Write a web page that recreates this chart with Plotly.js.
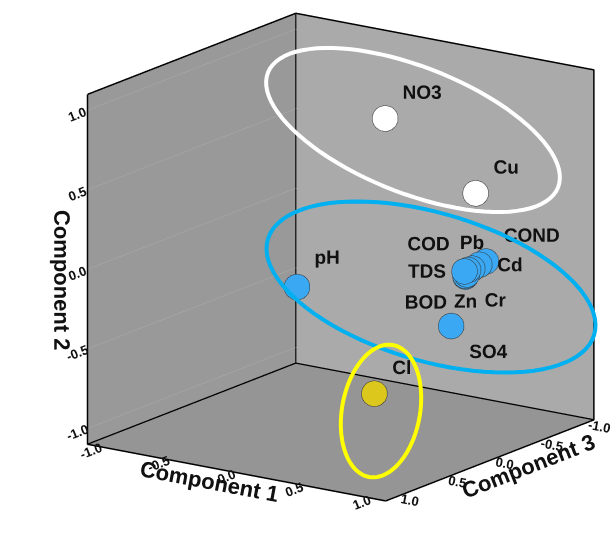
<!DOCTYPE html>
<html><head><meta charset="utf-8">
<script src="https://cdn.plot.ly/plotly-3.0.1.min.js"></script>
<style>html,body{margin:0;padding:0;background:#fff;overflow:hidden}</style>
</head><body><div id="chart" style="width:610px;height:551px"></div>
<script>
// ---- data (PCA loadings) ----
const labels = ['NO3','Cu','pH','COND','Cd','Pb','COD','TDS','BOD','Zn','Cr','SO4','Cl'];
const comp1  = [0.20, 0.70, -0.45, 0.95, 0.93, 0.92, 0.91, 0.90, 0.88, 0.89, 0.90, 0.75, 0.40];
const comp2  = [0.865, 0.42, -0.30, 0.09, 0.075, 0.063, 0.06, 0.055, 0.01, 0.02, 0.03, -0.33, -0.74];
const comp3  = [-0.18, -0.42, -0.18, -0.17, -0.13, -0.07, -0.04, -0.016, -0.055, -0.04, -0.04, -0.09, 0.22];
const groups = ['w','w','b','b','b','b','b','b','b','b','b','b','y'];
const textPos = ['top right','top right','top right','top right','middle right','top center','top left','middle left','bottom left','bottom center','bottom right','bottom right','top right'];
const tickVals = [-1, -0.5, 0, 0.5, 1];
const tickText = ['-1.0', '-0.5', '0.0', '0.5', '1.0'];
const axisRange = [-1.1, 1.1];

// ---- style ----
const groupColors = {w:'#ffffff', b:'#3aa8f2', y:'#dcc81c'};
const font = 'Liberation Sans, Arial, sans-serif';
const lo = axisRange[0], hi = axisRange[1];

const points = {
  type:'scatter3d', mode:'markers+text',
  x: comp3, y: comp1, z: comp2, text: labels, textposition: textPos,
  textfont:{family:font, size:19, color:'#111', weight:'bold'},
  marker:{size:15, color: groups.map(g=>groupColors[g]), opacity:1, line:{color:'#333', width:1}},
  hoverinfo:'skip', showlegend:false
};
function edge(xs, ys, zs){
  return {type:'scatter3d', mode:'lines', x:xs, y:ys, z:zs,
    line:{color:'#000', width:3}, hoverinfo:'skip', showlegend:false};
}
const edges = [
  edge([hi,hi,hi,lo,lo,lo,hi],[lo,lo,hi,hi,hi,lo,lo],[hi,lo,lo,lo,hi,hi,hi]),
  edge([lo,lo,hi],[lo,lo,lo],[hi,lo,lo]),
  edge([lo,lo],[lo,hi],[lo,lo])
];

function ellipsePath(cx, cy, a, b, ang){
  const W = 610, H = 551, t = ang*Math.PI/180, n = 90;
  let d = '';
  for(let i=0;i<=n;i++){
    const u = 2*Math.PI*i/n;
    const px = cx + a*Math.cos(u)*Math.cos(t) - b*Math.sin(u)*Math.sin(t);
    const py = cy + a*Math.cos(u)*Math.sin(t) + b*Math.sin(u)*Math.cos(t);
    d += (i? 'L':'M') + (px/W).toFixed(5) + ',' + (1-py/H).toFixed(5);
  }
  return d + 'Z';
}
const ellipses = [
  {c:'#ffffff', p:[413,130,156,63,21.6]},
  {c:'#00b0f0', p:[431,287,170,74,16.3]},
  {c:'#ffff00', p:[381,411,67,39,-79.7]}
];
const shapes = ellipses.map(e=>({type:'path', xref:'paper', yref:'paper', layer:'above',
  path: ellipsePath(...e.p), line:{color:e.c, width:4}}));

const dir = [0.789, 0.551, 0.272];
const dist = 1.446;
const ctr = [0.0891, -0.0960, -0.0643];
const k = 1.32;
function ax(title, bg){
  return {range:axisRange, autorange:false, tickvals:tickVals, ticktext:tickText,
    title:{text:title, font:{family:font, size:22, color:'#111', weight:'bold'}},
    tickfont:{family:font, size:12.5, color:'#111', weight:'bold'},
    showgrid:false, zeroline:false, showline:false, ticks:'', showspikes:false,
    showbackground:true, backgroundcolor:bg};
}
const za = ax('Component 2', '#959595');
za.showgrid = true; za.gridcolor = '#acacac'; za.gridwidth = 1;

const layout = {
  width:610, height:551, margin:{l:0,r:0,t:0,b:0}, paper_bgcolor:'#fff',
  shapes: shapes,
  scene:{
    domain:{x:[0,1], y:[0,1]},
    aspectmode:'manual', aspectratio:{x:k, y:k, z:k},
    xaxis: ax('Component 3', '#aaaaaa'),
    yaxis: ax('Component 1', '#999999'),
    zaxis: za,
    camera:{eye:{x:ctr[0]+dir[0]*dist, y:ctr[1]+dir[1]*dist, z:ctr[2]+dir[2]*dist},
      center:{x:ctr[0], y:ctr[1], z:ctr[2]}, up:{x:0,y:0,z:1},
      projection:{type:'orthographic'}}
  }
};
Plotly.newPlot('chart', [...edges, points], layout, {displayModeBar:false}).catch(function(e){
  document.body.insertAdjacentHTML('beforeend','<div>'+e+'</div>');
});
</script></body></html>
